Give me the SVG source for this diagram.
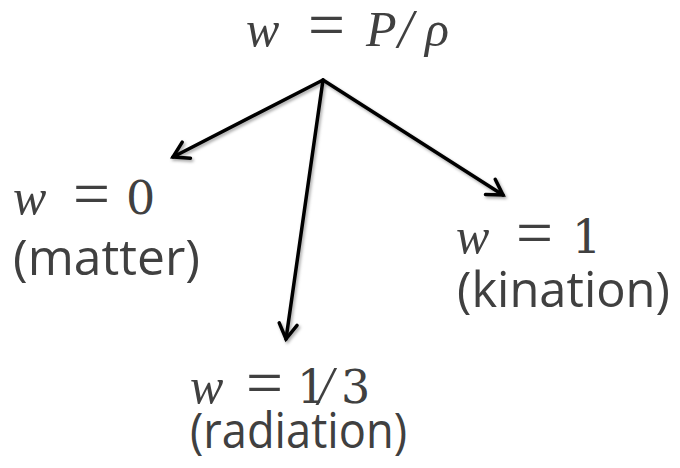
<svg xmlns="http://www.w3.org/2000/svg" width="680" height="468" viewBox="0 0 680 468">
<defs>
<style>
.m{font-family:"Liberation Serif","DejaVu Serif",serif;font-size:48px;fill:#404040}
.i{font-style:italic;font-size:50px}
.eq{font-size:66px}
.d{font-family:"DejaVu Serif","Liberation Serif",serif;font-size:46px}
.s{font-style:italic;font-size:54px}
.l{font-family:"Open Sans","Liberation Sans",sans-serif;font-size:50px;fill:#404040}
.c{fill:none;stroke:#000;stroke-width:3.5;stroke-linecap:round}
</style>
<marker id="ah" markerUnits="userSpaceOnUse" markerWidth="30" markerHeight="30" viewBox="-20 -15 30 30" refX="0" refY="0" orient="auto" overflow="visible">
<path d="M-15,-9 L0,0 L-15,9" fill="none" stroke="#000" stroke-width="3.5" stroke-linecap="round" stroke-linejoin="miter"/>
</marker>
<filter id="sh" x="-20%" y="-20%" width="140%" height="140%">
<feDropShadow dx="1.5" dy="2" stdDeviation="1.5" flood-color="#000" flood-opacity="0.35"/>
</filter>
</defs>
<rect width="680" height="468" fill="#fff"/>
<g id="connectors" filter="url(#sh)">
<line class="c" x1="323" y1="80" x2="173" y2="157" marker-end="url(#ah)"/>
<line class="c" x1="323" y1="80" x2="286" y2="339" marker-end="url(#ah)"/>
<line class="c" x1="323" y1="80" x2="503" y2="195" marker-end="url(#ah)"/>
</g>
<g id="root">
<text class="m"><tspan class="i" x="246" y="46">w</tspan><tspan class="i" x="366" y="46">P</tspan><tspan class="s" x="398" y="47">/</tspan><tspan class="i" x="425" y="46">ρ</tspan></text>
<text class="m eq" x="308" y="47" textLength="37" lengthAdjust="spacingAndGlyphs">=</text>
</g>
<g id="matter">
<text class="m"><tspan class="i" x="13" y="214">w</tspan><tspan class="d" x="126" y="214">0</tspan></text>
<text class="m eq" x="73" y="216" textLength="37" lengthAdjust="spacingAndGlyphs">=</text>
<text class="l" x="13" y="275" textLength="187" lengthAdjust="spacingAndGlyphs">(matter)</text>
</g>
<g id="radiation">
<text class="m"><tspan class="i" x="190" y="403">w</tspan><tspan class="d" x="297" y="403">1</tspan><tspan class="s" x="318" y="404">/</tspan><tspan class="d" x="341" y="403">3</tspan></text>
<text class="m eq" x="246" y="405" textLength="37" lengthAdjust="spacingAndGlyphs">=</text>
<text class="l" x="190" y="448" font-size="47" textLength="217" lengthAdjust="spacingAndGlyphs">(radiation)</text>
</g>
<g id="kination">
<text class="m"><tspan class="i" x="456" y="253">w</tspan><tspan class="d" x="572" y="253">1</tspan></text>
<text class="m eq" x="516" y="255" textLength="37" lengthAdjust="spacingAndGlyphs">=</text>
<text class="l" x="457" y="307" textLength="213" lengthAdjust="spacingAndGlyphs">(kination)</text>
</g>
</svg>
